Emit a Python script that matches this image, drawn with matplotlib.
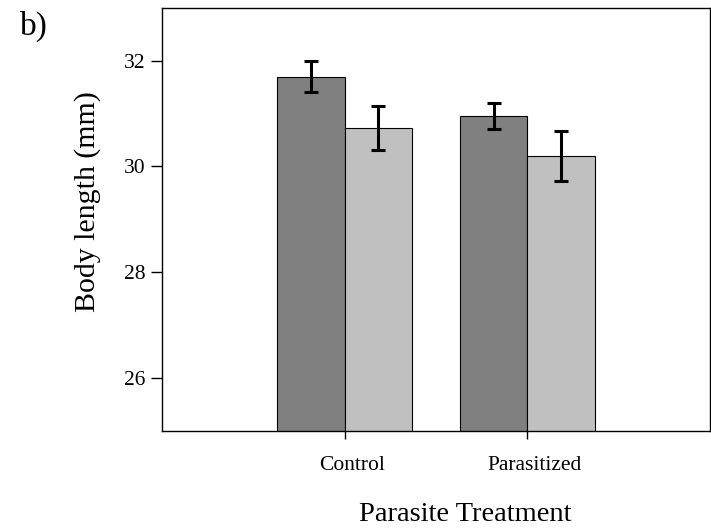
import numpy as np
import matplotlib.pyplot as plt
from matplotlib.transforms import ScaledTranslation

plt.rcParams['font.family'] = ['Liberation Serif', 'DejaVu Serif']

groups = ['Control', 'Parasitized']
dark_vals = [31.70, 30.95]
dark_err = [0.29, 0.25]
light_vals = [30.73, 30.20]
light_err = [0.42, 0.48]

x = np.arange(len(groups))
w = 0.37

fig = plt.figure(figsize=(7.11, 5.31), dpi=100)
ax = fig.add_axes([0.228, 0.189, 0.7705, 0.796])

ax.bar(x - w / 2, dark_vals, w, color='#808080', edgecolor='black', linewidth=0.8)
ax.bar(x + w / 2, light_vals, w, color='#c0c0c0', edgecolor='black', linewidth=0.8)
ax.errorbar(x - w / 2, dark_vals, yerr=dark_err, fmt='none', ecolor='black',
            elinewidth=2.2, capsize=4.7, capthick=2.2)
ax.errorbar(x + w / 2, light_vals, yerr=light_err, fmt='none', ecolor='black',
            elinewidth=2.2, capsize=4.7, capthick=2.2)

ax.set_xlim(-1, 2)
ax.set_ylim(25, 33)
ax.set_yticks([26, 28, 30, 32])
ax.set_xticks(x)
ax.set_xticklabels(groups)
ax.tick_params(axis='both', labelsize=15.5, width=1, color='black')
ax.tick_params(axis='x', length=6, pad=12)
ax.tick_params(axis='y', length=8, pad=4)
# x tick labels sit a little right of the ticks in the original
for lab in ax.get_xticklabels():
    lab.set_transform(lab.get_transform() + ScaledTranslation(0.07, 0, fig.dpi_scale_trans))
for s in ax.spines.values():
    s.set_linewidth(1)

ax.set_xlabel('Parasite Treatment', fontsize=20.5)
ax.xaxis.set_label_coords(0.553, -0.168)
ax.set_ylabel('Body length (mm)', fontsize=21.5)
ax.yaxis.set_label_coords(-0.111, 0.541)

fig.text(0.028, 1 - 11 / 531, 'b)', fontsize=24, va='top')

plt.savefig('out.png', dpi=100)
